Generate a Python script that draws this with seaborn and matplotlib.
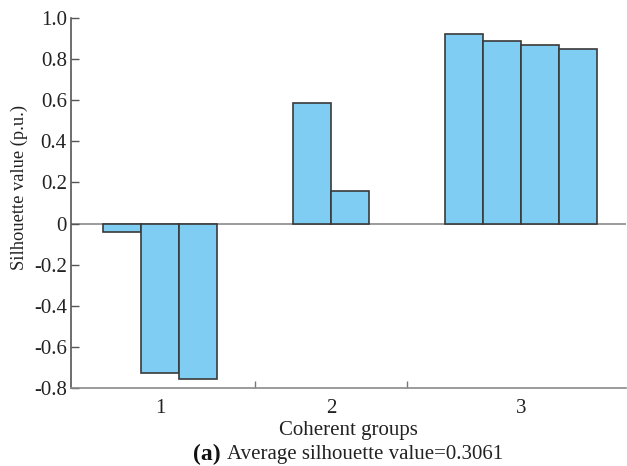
import matplotlib
matplotlib.use("Agg")
import matplotlib.pyplot as plt
import seaborn as sns
import pandas as pd
from matplotlib.ticker import FixedLocator

# ---- data ----
group_labels = ["1", "2", "3"]
group1_values = [-0.042, -0.725, -0.757]
group2_values = [0.588, 0.157]
group3_values = [0.921, 0.890, 0.869, 0.849]
ytick_values = [1.0, 0.8, 0.6, 0.4, 0.2, 0.0, -0.2, -0.4, -0.6, -0.8]
ytick_labels = ["1.0", "0.8", "0.6", "0.4", "0.2", "0", "-0.2", "-0.4", "-0.6", "-0.8"]
xlabel_text = "Coherent groups"
ylabel_text = "Silhouette value (p.u.)"
caption_bold = "(a)"
caption_text = "Average silhouette value=0.3061"

# positions: bars consecutive within groups, two empty slots between groups
groups = [group1_values, group2_values, group3_values]
positions, values, group_of = [], [], []
pos = 0
centers, separators = [], []
for gi, g in enumerate(groups):
    start = pos
    for v in g:
        positions.append(pos)
        values.append(v)
        group_of.append(group_labels[gi])
        pos += 1
    centers.append((start + pos - 1) / 2)
    if gi < len(groups) - 1:
        separators.append(pos - 1 + 1.5)
        pos += 2

df = pd.DataFrame({"pos": positions, "value": values, "group": group_of})

sns.set_theme(style="white")
plt.rcParams["font.family"] = ["Liberation Serif", "DejaVu Serif"]
plt.rcParams["axes.unicode_minus"] = False

W, H = 627, 466
fig = plt.figure(figsize=(W / 100, H / 100), dpi=100)
ax_left, ax_right, ax_top, ax_bottom = 71, 626, 18, 388
ax = fig.add_axes([ax_left / W, 1 - ax_bottom / H, (ax_right - ax_left) / W, (ax_bottom - ax_top) / H])

sns.barplot(data=df, x="pos", y="value", native_scale=True, width=1.0,
            color="#7fcdf2", saturation=1, edgecolor="#3a3a3a", linewidth=1.2,
            ax=ax, errorbar=None)

ax.axhline(0, color="#8a8a8a", lw=1.2, zorder=0.5)

ax.set_ylim(-0.8, 1.0)
ax.set_xlim(-1.34, 13.26)

ax.yaxis.set_major_locator(FixedLocator(ytick_values))
ax.set_yticklabels(ytick_labels)
ax.set_xticks(centers)
ax.set_xticklabels(group_labels)
ax.set_xticks(separators, minor=True)

ax.tick_params(axis="y", direction="in", length=6, width=1, color="#555555",
               labelsize=15, pad=3, left=True, labelcolor="#222222")
ax.tick_params(axis="x", which="major", length=0, labelsize=15, pad=8, labelcolor="#222222")
ax.tick_params(axis="x", which="minor", direction="in", length=5, width=1, color="#777777", bottom=True)

for s in ["top", "right"]:
    ax.spines[s].set_visible(False)
ax.spines["left"].set_color("#555555")
ax.spines["left"].set_linewidth(1.2)
ax.spines["bottom"].set_color("#8a8a8a")
ax.spines["bottom"].set_linewidth(1.2)

ax.set_xlabel(xlabel_text, fontsize=15, color="#222222")
ax.xaxis.set_label_coords(0.5, -(430 - ax_bottom) / (ax_bottom - ax_top))
ax.xaxis.label.set_va("center")
ax.set_ylabel(ylabel_text, fontsize=13.3, color="#222222")
ax.yaxis.set_label_coords(-(ax_left - 19) / (ax_right - ax_left), (ax_bottom - 187) / (ax_bottom - ax_top))
ax.yaxis.label.set_va("center")

fig.text(221 / W, 1 - 454 / H, caption_bold, fontsize=17, fontweight="bold",
         ha="right", va="center", color="#111111")
fig.text(227 / W, 1 - 454 / H, caption_text, fontsize=15,
         ha="left", va="center", color="#222222")

fig.savefig("out.png", dpi=100)
